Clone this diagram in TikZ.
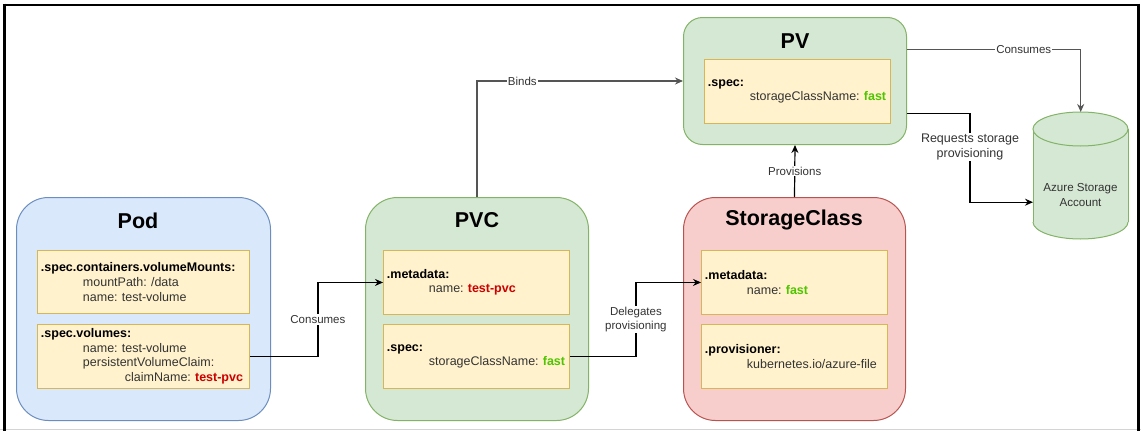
\documentclass[tikz,border=0pt]{standalone}
\usepackage{fontspec}
\setmainfont{Liberation Sans}
\usetikzlibrary{arrows.meta}
\frenchspacing
\definecolor{bluefill}{HTML}{DAE8FC}
\definecolor{bluedraw}{HTML}{6C8EBF}
\definecolor{greenfill}{HTML}{D5E8D4}
\definecolor{greendraw}{HTML}{82B366}
\definecolor{redfill}{HTML}{F8CECC}
\definecolor{reddraw}{HTML}{B85450}
\definecolor{yelfill}{HTML}{FFF2CC}
\definecolor{yeldraw}{HTML}{D6B656}
\definecolor{txtgray}{HTML}{333333}
\definecolor{valred}{HTML}{CC0000}
\definecolor{valgreen}{HTML}{4FC400}
\definecolor{edgegray}{HTML}{555555}
\definecolor{framegray}{HTML}{D4D4D4}
\newcommand{\ind}{\hspace*{42pt}}
\newcommand{\hdr}[1]{\textcolor{black}{\textbf{#1}}}
\newcommand{\vred}[1]{\textcolor{valred}{\textbf{#1}}}
\newcommand{\vgreen}[1]{\textcolor{valgreen}{\textbf{#1}}}
\newcommand{\oneline}[1]{\mbox{#1}}
\begin{document}
\frenchspacing
\begin{tikzpicture}[x=1pt,y=-1pt,
  outerbox/.style={draw, line width=1pt, anchor=north west, inner sep=0pt},
  inbox/.style={draw=yeldraw, fill=yelfill, line width=0.9pt, anchor=north west,
    inner xsep=3.5pt, inner ysep=0pt, align=left, text=txtgray,
    font=\fontsize{12.5}{14.6}\selectfont\frenchspacing},
  title/.style={font=\fontsize{21.5}{24}\selectfont\bfseries, text=black, inner sep=0pt},
  elabel/.style={fill=white, text=txtgray, inner sep=1pt, align=center,
    font=\fontsize{11.5}{14}\selectfont},
  conn/.style={line width=1.2pt, -{Stealth[length=8pt,width=7pt]}},
]
\useasboundingbox (0,0) rectangle (1141,431);
% frame
\draw[framegray, line width=1pt] (0,429) -- (1141,429);
\draw[black, line width=2.6pt] (2.8,5) -- (1139.8,5);
\draw[black, line width=2.6pt] (4.2,3.7) -- (4.2,431);
\draw[black, line width=2.6pt] (1138.5,3.7) -- (1138.5,431);

% outer boxes
\node[outerbox, draw=bluedraw, fill=bluefill, rounded corners=32pt,
  minimum width=254pt, minimum height=223pt] (pod) at (16,197) {};
\node[outerbox, draw=greendraw, fill=greenfill, rounded corners=32pt,
  minimum width=223pt, minimum height=223pt] (pvc) at (365,197) {};
\node[outerbox, draw=reddraw, fill=redfill, rounded corners=32pt,
  minimum width=222pt, minimum height=223pt] (sc) at (683,197) {};
\node[outerbox, draw=greendraw, fill=greenfill, rounded corners=19pt,
  minimum width=223pt, minimum height=127pt] (pv) at (683,17) {};

% titles
\node[title] (podt) at (138,221) {Pod};
\node[title] (pvct) at (477,220) {PVC};
\node[title] (sct) at (794,220) {StorageClass};
\node[title] (pvt) at (795,41) {PV};

% inner boxes
\node[inbox, minimum width=212pt, minimum height=63pt, text width=205pt] (podmount) at (37,250)
  {\oneline{\hdr{.spec.containers.volumeMounts:}}\\\oneline{\ind mountPath: /data}\\\oneline{\ind name: test-volume}};
\node[inbox, minimum width=212pt, minimum height=64pt, text width=205pt] (podvol) at (37,324)
  {\oneline{\hdr{.spec.volumes:}}\\\oneline{\ind name: test-volume}\\\oneline{\ind persistentVolumeClaim:}\\\oneline{\ind\ind claimName: \vred{test-pvc}}};
\node[inbox, minimum width=186pt, minimum height=64pt, text width=179pt] (pvcmeta) at (383,250)
  {\oneline{\hdr{.metadata:}}\\\oneline{\ind name: \vred{test-pvc}}};
\node[inbox, minimum width=186pt, minimum height=64pt, text width=179pt] (pvcspec) at (383,324)
  {\oneline{\hdr{.spec:}}\\\oneline{\ind storageClassName: \vgreen{fast}}};
\node[inbox, minimum width=186pt, minimum height=64pt, text width=179pt] (scmeta) at (701,250)
  {\oneline{\hdr{.metadata:}}\\\oneline{\ind name: \vgreen{fast}}};
\node[inbox, minimum width=186pt, minimum height=64pt, text width=179pt] (scprov) at (701,324)
  {\oneline{\hdr{.provisioner:}}\\\oneline{\ind kubernetes.io/azure-file}};
\node[inbox, minimum width=186pt, minimum height=64pt, text width=179pt] (pvspec) at (704,59)
  {\oneline{\hdr{.spec:}}\\\oneline{\ind storageClassName: \vgreen{fast}}};

% cylinder (Azure Storage Account)
\node[minimum width=95pt, minimum height=127pt, inner sep=0pt, anchor=north west] (azure) at (1033,112) {};
\fill[greenfill] (1033,129) rectangle (1128,222);
\fill[greenfill] (1080.5,222) ellipse [x radius=47.5pt, y radius=17pt];
\begin{scope}
  \clip (1025,222) rectangle (1135,245);
  \draw[greendraw, line width=1pt] (1080.5,222) ellipse [x radius=47.5pt, y radius=17pt];
\end{scope}
\draw[greendraw, line width=1pt] (1033,129) -- (1033,222);
\draw[greendraw, line width=1pt] (1128,129) -- (1128,222);
\draw[greendraw, fill=greenfill, line width=1pt] (1080.5,129) ellipse [x radius=47.5pt, y radius=17pt];
\node[align=center, text=txtgray, font=\fontsize{11.6}{14.2}\selectfont] (azuretext) at (1080.5,195)
  {Azure Storage\\Account};

% connectors
\draw[conn, black] (podvol.east) -- ++(68,0) |- node[elabel, pos=0.25] {Consumes} (pvcmeta.west);
\draw[conn, black] (pvcspec.east) -- ++(66,0) |- node[elabel, pos=0.25] {Delegates\\provisioning} (scmeta.west);
\draw[conn, edgegray] (pvc.north) |- node[elabel, pos=0.61] {Binds} (pv.west);
\draw[conn, black] (sc.north) -- node[elabel] {Provisions} (pv.south);
\draw[conn, edgegray] ([yshift=31.5pt]pv.east) -| node[elabel, pos=0.336] {Consumes} (azure.north);
\draw[conn, black] ([yshift=-32.5pt]pv.east) -- ++(63,0) |- node[elabel, pos=0.19, font=\fontsize{12.5}{14.6}\selectfont] {Requests storage\\provisioning} ([yshift=-26.5pt]azure.west);
\end{tikzpicture}
\end{document}
